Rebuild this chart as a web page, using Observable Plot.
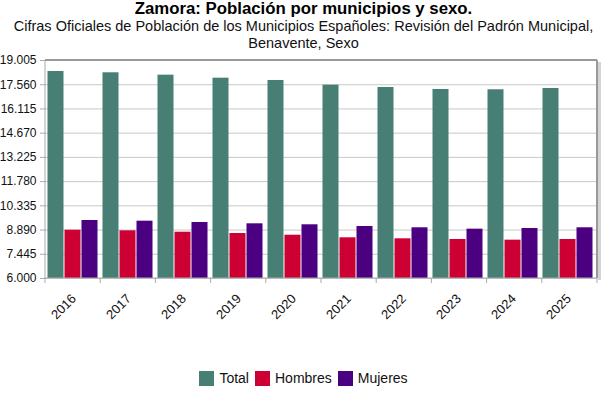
<!DOCTYPE html>
<html>
<head>
<meta charset="utf-8">
<script src="https://cdn.jsdelivr.net/npm/d3@7"></script>
<script src="https://cdn.jsdelivr.net/npm/@observablehq/plot@0.6"></script>
<style>
  body { margin: 0; background: #fff; font-family: "Liberation Sans", Arial, sans-serif; width: 607px; }
  #title { text-align: center; font-weight: bold; font-size: 16.8px; line-height: 18px; color: #000; }
  #subtitle { text-align: center; font-size: 14.5px; line-height: 17px; color: #111; }
  #chart svg { display: block; }
  #legend { display: flex; justify-content: center; align-items: center; margin-top: 16px; height: 20px; font-size: 14px; color: #111; }
  .item { display: flex; align-items: center; margin: 0 3px; }
  .sw { width: 15px; height: 15px; margin-right: 5px; display: inline-block; }
</style>
</head>
<body>
<div id="title">Zamora: Población por municipios y sexo.</div>
<div id="subtitle">Cifras Oficiales de Población de los Municipios Españoles: Revisión del Padrón Municipal, Benavente, Sexo</div>
<div id="chart"></div>
<div id="legend"></div>
<script>
const years = [2016, 2017, 2018, 2019, 2020, 2021, 2022, 2023, 2024, 2025];
const series = ["Total", "Hombres", "Mujeres"];
const colors = ["#477f75", "#cc0033", "#4b0082"];
const total   = [18349, 18272, 18130, 17950, 17813, 17532, 17395, 17276, 17258, 17335];
const hombres = [8882, 8845, 8762, 8685, 8583, 8428, 8368, 8327, 8287, 8327];
const mujeres = [9460, 9419, 9341, 9263, 9204, 9102, 9025, 8943, 8983, 9025];
const yTicks = [6000, 7445, 8890, 10335, 11780, 13225, 14670, 16115, 17560, 19005];
const yMin = 6000, yMax = 19005;

const valuesBySerie = [total, hombres, mujeres];
const data = years.flatMap((year, i) => series.map((serie, j) => ({year, serie, value: valuesBySerie[j][i]})));

const locale = d3.formatLocale({decimal: ",", thousands: ".", grouping: [3], currency: ["", "€"]});
const fmt = locale.format(",.0f");

const W = 607, H = 300, ML = 45, MR = 10, MT = 8, MB = 74;

const chart = Plot.plot({
  width: W, height: H,
  marginLeft: ML, marginRight: MR, marginTop: MT, marginBottom: MB,
  style: {fontFamily: "'Liberation Sans', Arial, sans-serif", fontSize: "12px", background: "#fff", color: "#111"},
  fx: {domain: years, padding: 0, label: null},
  x: {domain: series, paddingInner: 0, paddingOuter: 0.095, align: 0.35, axis: null},
  y: {domain: [yMin, yMax], label: null},
  color: {domain: series, range: colors},
  marks: [
    Plot.gridY(yTicks, {stroke: "#c8c8c8", strokeOpacity: 1}),
    Plot.axisY(yTicks, {tickFormat: fmt, tickSize: 6, tickPadding: 4, stroke: "#aaa", fill: "#111", label: null, fontSize: 12}),
    Plot.axisFx({anchor: "bottom", tickFormat: d => String(d), tickRotate: -45, tickSize: 0, tickPadding: 18, dx: 0, label: null, fontSize: 13, fill: "#111"}),
    Plot.barY(data, {fx: "year", x: "serie", y1: yMin, y2: "value", fill: "serie", insetLeft: 0.5, insetRight: 0.5})
  ]
});
document.getElementById("chart").appendChild(chart);

// frame, axis line and group boundary ticks using Plot's own scales
const ys = chart.scale("y");
const fxs = chart.scale("fx");
const yS = d3.scaleLinear(ys.domain, ys.range);
const band = d3.scaleBand(fxs.domain, fxs.range)
  .paddingInner(fxs.paddingInner ?? 0).paddingOuter(fxs.paddingOuter ?? 0).align(fxs.align ?? 0.5);
const xL = fxs.range[0], xR = fxs.range[1];
const yTop = yS(yMax), yBot = yS(yMin);
const svg = d3.select(chart);
const g = svg.append("g");
// boundary ticks
const bounds = years.map(y => band(y)).concat([xR]);
g.selectAll("line.bt").data(bounds).join("line")
  .attr("x1", d => d).attr("x2", d => d).attr("y1", yBot).attr("y2", yBot + 5)
  .attr("stroke", "#aaa");
// shadow at right
g.append("line").attr("x1", xR + 2.5).attr("x2", xR + 2.5).attr("y1", yTop + 2).attr("y2", yBot + 2)
  .attr("stroke", "#d4d4d4").attr("stroke-width", 3);
// bottom line
g.append("line").attr("x1", xL).attr("x2", xR).attr("y1", yBot).attr("y2", yBot).attr("stroke", "#aaa");
// left axis line
g.append("line").attr("x1", xL).attr("x2", xL).attr("y1", yTop).attr("y2", yBot).attr("stroke", "#aaa");
// top frame
g.append("line").attr("x1", xL).attr("x2", xR).attr("y1", yTop).attr("y2", yTop).attr("stroke", "#999").attr("stroke-width", 2);
// right frame
g.append("line").attr("x1", xR).attr("x2", xR).attr("y1", yTop).attr("y2", yBot).attr("stroke", "#999").attr("stroke-width", 2);

// legend
const legend = d3.select("#legend");
series.forEach((s, i) => {
  const it = legend.append("div").attr("class", "item");
  it.append("span").attr("class", "sw").style("background", colors[i]);
  it.append("span").text(s);
});
</script>
</body>
</html>
